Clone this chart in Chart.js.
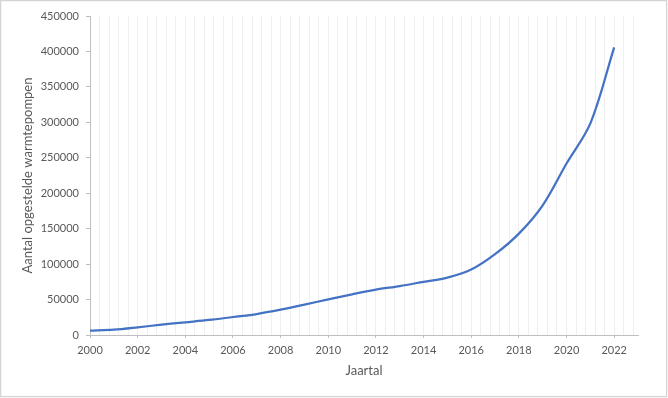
<!DOCTYPE html>
<html>
<head>
<meta charset="utf-8">
<script src="https://cdn.jsdelivr.net/npm/chart.js@4.4.0/dist/chart.umd.min.js"></script>
<style>
  html, body { margin: 0; padding: 0; background: #ffffff; }
  #wrap { width: 668px; height: 398px; position: relative; }
</style>
</head>
<body>
<div id="wrap"><canvas id="c" width="668" height="398"></canvas></div>
<script>
const years = [2000,2001,2002,2003,2004,2005,2006,2007,2008,2009,2010,2011,2012,2013,2014,2015,2016,2017,2018,2019,2020,2021,2022];
const heatPumps = [6100,7500,10800,14600,17900,21200,25400,29600,35700,42800,50300,57400,64000,69000,75000,81000,92300,114000,143000,183000,242000,298500,405800];
const xMin = 2000, xMax = 2023, xLabelStep = 2, xGridStep = 0.4;
const yMin = 0, yMax = 450000, yStep = 50000;
const xTitle = 'Jaartal';
const yTitle = 'Aantal opgestelde warmtepompen';

const points = years.map((y, i) => ({ x: y, y: heatPumps[i] }));
const isMajor = v => Math.abs(v / xLabelStep - Math.round(v / xLabelStep)) < 1e-6;

const framePlugin = {
  id: 'frame',
  afterDraw(chart) {
    const ctx = chart.ctx;
    ctx.save();
    ctx.strokeStyle = '#d4d4d4';
    ctx.lineWidth = 1.3;
    ctx.strokeRect(0.6, 0.6, 666, 396);
    ctx.restore();
  }
};

new Chart(document.getElementById('c'), {
  type: 'line',
  data: {
    datasets: [{
      data: points,
      borderColor: '#4472C4',
      borderWidth: 2.25,
      pointRadius: 0,
      tension: 0.33,
      fill: false
    }]
  },
  options: {
    responsive: false,
    animation: false,
    layout: { padding: { left: 0, right: 30, top: 16, bottom: 0 } },
    plugins: { legend: { display: false }, tooltip: { enabled: false } },
    scales: {
      x: {
        type: 'linear',
        min: xMin, max: xMax,
        afterBuildTicks(scale) {
          const t = [];
          for (let k = 0; xMin + k * xGridStep <= xMax + 1e-9; k++) {
            t.push({ value: Math.round((xMin + k * xGridStep) * 1000) / 1000 });
          }
          scale.ticks = t;
        },
        afterFit(scale) { scale.height = 63; },
        ticks: {
          autoSkip: false,
          maxRotation: 0,
          color: '#595959',
          font: { family: 'Lato', size: 11 },
          padding: 6,
          callback: v => isMajor(v) ? String(Math.round(v)) : ''
        },
        grid: {
          color: '#efefef',
          lineWidth: 1,
          tickLength: 3,
          tickColor: ctx => (ctx.tick && isMajor(ctx.tick.value)) ? '#bfbfbf' : 'rgba(0,0,0,0)'
        },
        border: { color: '#bfbfbf', width: 1 },
        title: {
          display: true,
          text: xTitle,
          color: '#595959',
          font: { family: 'Lato', size: 13 },
          padding: { top: 0, bottom: 19 }
        }
      },
      y: {
        min: yMin, max: yMax,
        afterFit(scale) { scale.width = 90; },
        ticks: {
          stepSize: yStep,
          color: '#595959',
          font: { family: 'Lato', size: 11 },
          padding: 7,
          callback: v => String(v)
        },
        grid: {
          drawOnChartArea: false,
          drawTicks: true,
          tickLength: 4,
          tickColor: '#bfbfbf'
        },
        border: { color: '#bfbfbf', width: 1 },
        title: {
          display: true,
          text: yTitle,
          color: '#595959',
          font: { family: 'Lato', size: 13 },
          padding: { top: 20, bottom: 0 }
        }
      }
    }
  },
  plugins: [framePlugin]
});
</script>
</body>
</html>
